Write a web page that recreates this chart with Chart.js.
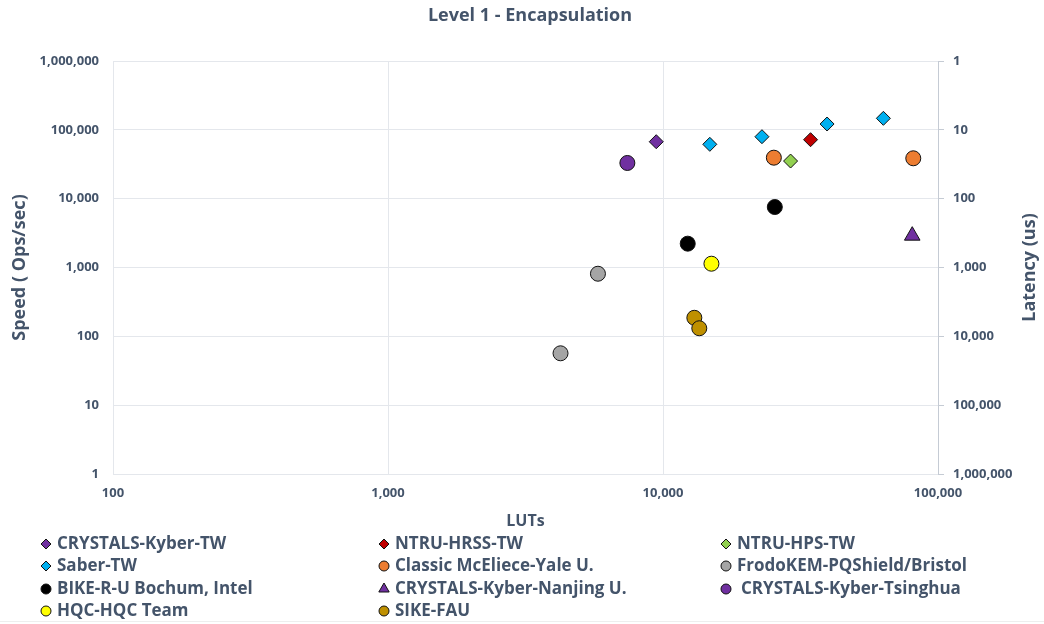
<!DOCTYPE html>
<html>
<head>
<meta charset="utf-8">
<script src="https://cdn.jsdelivr.net/npm/chart.js@4"></script>
<style>
  html, body { margin: 0; padding: 0; background: #ffffff; }
  #wrap { position: relative; width: 1044px; height: 624px; }
</style>
</head>
<body>
<div id="wrap"><canvas id="chart" width="1044" height="624"></canvas></div>
<script>
// Series names, in legend order
const seriesNames = [
  'CRYSTALS-Kyber-TW', 'NTRU-HRSS-TW', 'NTRU-HPS-TW',
  'Saber-TW', 'Classic McEliece-Yale U.', 'FrodoKEM-PQShield/Bristol',
  'BIKE-R-U Bochum, Intel', 'CRYSTALS-Kyber-Nanjing U.', 'CRYSTALS-Kyber-Tsinghua',
  'HQC-HQC Team', 'SIKE-FAU'
];

// Area (LUTs) of each design, per series
const lutValues = [
  [9450],
  [34400],
  [29100],
  [14800, 22900, 39500, 63300],
  [25300, 81300],
  [5800, 4240],
  [12300, 25500],
  [80600],
  [7420],
  [15000],
  [13000, 13550]
];

// Encapsulation speed (operations per second), per series
const opsValues = [
  [67200],
  [71900],
  [35200],
  [61600, 79500, 121500, 147000],
  [39400, 38600],
  [812, 56.7],
  [2220, 7560],
  [2900],
  [33000],
  [1135],
  [186, 131]
];

// Marker look for each series
const seriesColors = [
  '#7030A0', '#C00000', '#92D050',
  '#00B0F0', '#ED7D31', '#A5A5A5',
  '#000000', '#7030A0', '#7030A0',
  '#FFFF00', '#BF9000'
];
const seriesShapes = [
  'rectRot', 'rectRot', 'rectRot',
  'rectRot', 'circle', 'circle',
  'circle', 'triangle', 'circle',
  'circle', 'circle'
];

// Axis ticks
const lutTicks = [100, 1000, 10000, 100000];
const speedTicks = [1, 10, 100, 1000, 10000, 100000, 1000000];
const latencyTicks = [1, 10, 100, 1000, 10000, 100000, 1000000];

const TEXT = '#44546A';
const GRID = '#E4E7EC';
const AXIS = '#C5CBD4';
const FONT = '"Open Sans", Lato, sans-serif';

const markerRadius = { rectRot: 7, circle: 7.5, triangle: 9 };
const legendRadius = { rectRot: 5, circle: 5, triangle: 6 };

const datasets = seriesNames.map((name, i) => ({
  label: name,
  data: lutValues[i].map((x, j) => ({ x: x, y: opsValues[i][j] })),
  pointStyle: seriesShapes[i],
  pointRadius: markerRadius[seriesShapes[i]],
  pointHoverRadius: markerRadius[seriesShapes[i]],
  backgroundColor: seriesColors[i],
  borderColor: '#111111',
  pointBorderWidth: 1,
  borderWidth: 1,
  showLine: false
}));

const fmt = v => Number(v).toLocaleString('en-US');

function shapePath(ctx, shape, x, y, r) {
  ctx.beginPath();
  if (shape === 'rectRot') {
    ctx.moveTo(x - r, y); ctx.lineTo(x, y - r); ctx.lineTo(x + r, y); ctx.lineTo(x, y + r);
    ctx.closePath();
  } else if (shape === 'triangle') {
    const h = r * Math.sin(Math.PI / 3);
    ctx.moveTo(x, y - r); ctx.lineTo(x + h, y + r / 2); ctx.lineTo(x - h, y + r / 2);
    ctx.closePath();
  } else {
    ctx.arc(x, y, r, 0, Math.PI * 2);
  }
}

// Title, right-hand axis title and the three-column legend
const decorations = {
  id: 'decorations',
  afterDraw(chart) {
    const ctx = chart.ctx;
    const area = chart.chartArea;
    ctx.save();
    ctx.fillStyle = TEXT;
    ctx.textBaseline = 'middle';

    ctx.font = 'bold 18px ' + FONT;
    ctx.textAlign = 'center';
    ctx.fillText('Level 1 - Encapsulation', 530, 16);

    ctx.save();
    ctx.font = 'bold 18px ' + FONT;
    ctx.translate(1030, (area.top + area.bottom) / 2);
    ctx.rotate(-Math.PI / 2);
    ctx.fillText('Latency (us)', 0, 0);
    ctx.restore();

    const colMarker = [46, 384, 726];
    const rowY = [544, 566, 589, 611];
    ctx.font = 'bold 17px ' + FONT;
    ctx.textAlign = 'left';
    seriesNames.forEach((name, i) => {
      const col = i % 3, row = Math.floor(i / 3);
      const mx = colMarker[col], my = rowY[row];
      const shape = seriesShapes[i];
      shapePath(ctx, shape, mx, my, legendRadius[shape]);
      ctx.fillStyle = seriesColors[i];
      ctx.fill();
      ctx.lineWidth = 1;
      ctx.strokeStyle = '#111111';
      ctx.stroke();
      ctx.fillStyle = TEXT;
      const pad = name === 'CRYSTALS-Kyber-Tsinghua' ? 15 : 11;
      ctx.fillText(name, mx + pad, my);
    });

    // faint frame line under the legend
    ctx.strokeStyle = '#EEEEEE';
    ctx.lineWidth = 1;
    ctx.beginPath();
    ctx.moveTo(0, 621.5); ctx.lineTo(1044, 621.5);
    ctx.stroke();
    ctx.restore();
  }
};

new Chart(document.getElementById('chart'), {
  type: 'scatter',
  data: { datasets: datasets },
  plugins: [decorations],
  options: {
    responsive: false,
    animation: false,
    events: [],
    layout: { padding: { top: 61, left: 0, right: 0, bottom: 0 } },
    plugins: {
      legend: { display: false },
      title: { display: false },
      tooltip: { enabled: false }
    },
    scales: {
      x: {
        type: 'logarithmic',
        min: 100, max: 100000,
        afterFit(s) { s.height = 150; },
        afterBuildTicks(s) { s.ticks = lutTicks.map(v => ({ value: v, major: true })); },
        grid: { color: GRID, drawTicks: false, lineWidth: 1 },
        border: { display: true, color: GRID },
        ticks: {
          padding: 11, autoSkip: false, maxRotation: 0,
          color: TEXT, font: { family: FONT, size: 13, weight: 'bold' },
          callback: v => fmt(v)
        },
        title: {
          display: true, text: 'LUTs', color: TEXT,
          font: { family: FONT, size: 16, weight: 'bold' },
          padding: { top: 0, bottom: 93 }
        }
      },
      y: {
        type: 'logarithmic',
        position: 'left',
        min: 1, max: 1000000,
        afterFit(s) { s.width = 113; },
        afterBuildTicks(s) { s.ticks = speedTicks.map(v => ({ value: v, major: true })); },
        grid: { color: GRID, drawTicks: false },
        border: { display: true, color: GRID },
        ticks: {
          padding: 14, autoSkip: false,
          color: TEXT, font: { family: FONT, size: 13, weight: 'bold' },
          callback: v => fmt(v)
        },
        title: {
          display: true, text: 'Speed ( Ops/sec)', color: TEXT,
          font: { family: FONT, size: 18, weight: 'bold' },
          padding: { top: 9, bottom: 0 }
        }
      },
      y2: {
        type: 'logarithmic',
        position: 'right',
        reverse: true,
        min: 1, max: 1000000,
        afterFit(s) { s.width = 106; },
        afterBuildTicks(s) { s.ticks = latencyTicks.map(v => ({ value: v, major: true })); },
        grid: { drawOnChartArea: false, drawTicks: true, tickLength: 6, color: AXIS },
        border: { display: true, color: AXIS },
        ticks: {
          padding: 9, autoSkip: false,
          color: TEXT, font: { family: FONT, size: 13, weight: 'bold' },
          callback: v => fmt(v)
        },
        title: { display: false }
      }
    }
  }
});
</script>
</body>
</html>
